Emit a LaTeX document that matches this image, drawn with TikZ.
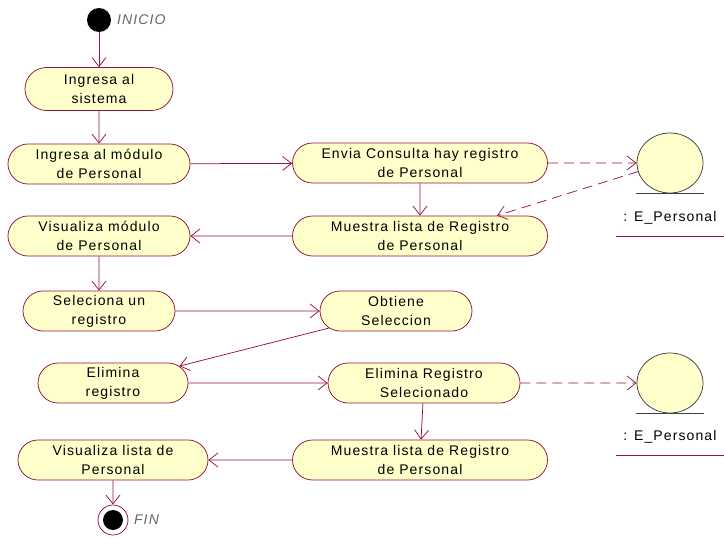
\documentclass[tikz,border=0pt]{standalone}
\usepackage{fontspec}
\setmainfont[LetterSpace=8]{Liberation Sans}
\usepackage{tikz}
\usetikzlibrary{positioning}
\usetikzlibrary{shapes.geometric,shapes.misc,arrows.meta}

\definecolor{rosered}{RGB}{150,20,60}
\definecolor{roseyellow}{RGB}{255,255,204}

\begin{document}
\begin{tikzpicture}[x=1pt,y=-1pt,line width=0.75pt]

    \tikzset{
        activity/.style={
            draw=rosered,
            rounded rectangle,
            fill=roseyellow,
            align=center,
            inner sep=0pt,
            minimum height=40pt,
            font=\fontsize{14}{19}\selectfont
        },
        entity/.style={
            draw=black!75,
            ellipse,
            fill=roseyellow,
            minimum width=66pt,
            minimum height=60pt
        },
        entlabel/.style={
            minimum width=107pt,
            minimum height=36pt,
            inner sep=0pt,
            font=\fontsize{14}{17}\selectfont
        },
        statelabel/.style={
            text=black!60,
            font=\fontsize{14}{17}\selectfont\itshape
        },
        flow/.style={draw=rosered, -{Straight Barb[length=9pt,width=14pt]}},
        depend/.style={flow, dash pattern=on 10pt off 6pt}
    }

    \useasboundingbox (0,0) rectangle (724,538);

    \node[circle, fill=black, minimum size=24pt, inner sep=0pt] (S) at (99,20) {};
    \node[statelabel, right=2pt of S] (Si) {INICIO};

    \node[activity, minimum width=148pt, minimum height=43pt] (A) at (99,89) {Ingresa al\\sistema};
    \node[activity, minimum width=182pt] (B) at (99,164) {Ingresa al módulo\\de Personal};
    \node[activity, minimum width=255pt] (C) at (420,163) {Envia Consulta hay registro\\de Personal};
    \node[activity, minimum width=255pt] (D) at (420,236) {Muestra lista de Registro\\de Personal};
    \node[activity, minimum width=182pt] (V) at (99,236) {Visualiza módulo\\de Personal};
    \node[activity, minimum width=152pt] (G) at (99,311) {Seleciona un\\registro};
    \node[activity, minimum width=152pt] (H) at (396,311) {Obtiene\\Seleccion};
    \node[activity, minimum width=150pt] (I) at (113,383) {Elimina\\registro};
    \node[activity, minimum width=192pt] (J) at (424,383) {Elimina Registro\\Selecionado};
    \node[activity, minimum width=255pt] (K) at (420,460) {Muestra lista de Registro\\de Personal};
    \node[activity, minimum width=190pt] (L) at (113,460) {Visualiza lista de\\Personal};

    \node[circle, draw=rosered, fill=white, minimum size=30pt, inner sep=0pt,
        path picture={\fill[black] (path picture bounding box.center) circle (10pt);}] (F) at (113,520) {};
    \node[statelabel, right=2pt of F] (Fi) {FIN};

    % entidades
    \node[entity] (E1) at (670,163) {};
    \node[entlabel] (E1l) at (670,218) {: E\_Personal};
    \draw[black!75] ([xshift=-34pt]E1.south) -- ([xshift=34pt]E1.south);
    \draw[rosered] (E1l.south west) -- (E1l.south east);

    \node[entity] (E2) at (670,383) {};
    \node[entlabel] (E2l) at (670,437) {: E\_Personal};
    \draw[black!75] ([xshift=-34pt]E2.south) -- ([xshift=34pt]E2.south);
    \draw[rosered] (E2l.south west) -- (E2l.south east);

    \draw[flow] (S) -- (A);
    \draw[flow] (A) -- (B);
    \draw[flow] (B) -- (C);
    \draw[depend] (C) -- (E1);
    \draw[depend] (E1.195) -- ([xshift=77pt]D.north);
    \draw[flow] (C) -- (D);
    \draw[flow] (D) -- (V);
    \draw[flow] (V) -- (G);
    \draw[flow] (G) -- (H);
    \draw[flow] (H) -- (I);
    \draw[flow] (I) -- (J);
    \draw[depend] (J) -- (E2);
    \draw[flow] (J) -- (K);
    \draw[flow] (K) -- (L);
    \draw[flow] (L) -- (F);

\end{tikzpicture}
\end{document}
